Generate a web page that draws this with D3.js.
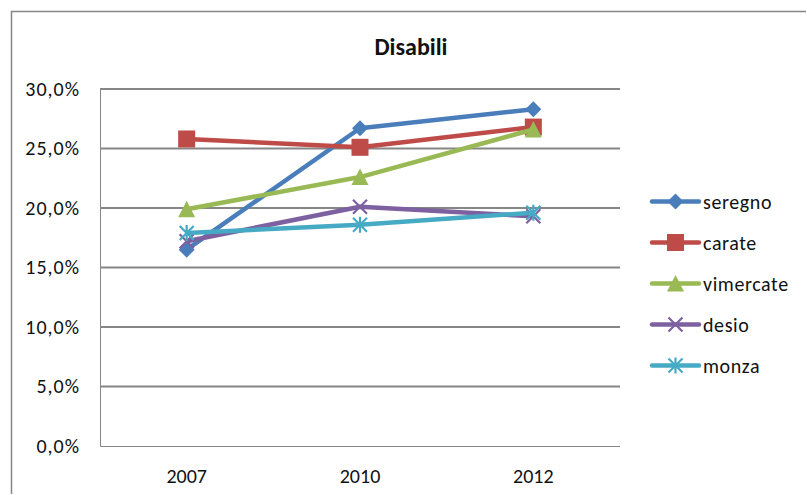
<!DOCTYPE html>
<html><head><meta charset="utf-8">
<script src="https://cdn.jsdelivr.net/npm/d3@7"></script>
<style>html,body{margin:0;padding:0;background:#fff;}svg{display:block;}</style>
</head><body>
<svg id="c" width="807" height="495"></svg>
<script>
const categories = ["2007", "2010", "2012"];
const seregno   = [16.5, 26.7, 28.3];
const carate    = [25.8, 25.1, 26.8];
const vimercate = [19.9, 22.6, 26.6];
const desio     = [17.2, 20.1, 19.3];
const monza     = [17.9, 18.6, 19.6];
const seriesNames = ["seregno", "carate", "vimercate", "desio", "monza"];
const yTicks = [0, 5, 10, 15, 20, 25, 30];
const title = "Disabili";

const series = [
  {name: seriesNames[0], values: seregno,   color: "#4A7EBB", marker: "diamond"},
  {name: seriesNames[1], values: carate,    color: "#BE4B48", marker: "square"},
  {name: seriesNames[2], values: vimercate, color: "#98B954", marker: "triangle"},
  {name: seriesNames[3], values: desio,     color: "#7D60A0", marker: "x"},
  {name: seriesNames[4], values: monza,     color: "#46AAC5", marker: "star"}
];

const font = "Carlito, Lato, 'Open Sans', sans-serif";
const svg = d3.select("#c");
const L = 100, R = 620, T = 89, B = 446;

// outer chart border
svg.append("path").attr("d", "M11.5,494 V11.5 H806").attr("fill", "none")
  .attr("stroke", "#868686").attr("stroke-width", 1.5);

const x = d3.scaleBand().domain(categories).range([L, R]);
const y = d3.scaleLinear().domain([0, 30]).range([B, T]);

// gridlines
svg.append("g").selectAll("line").data(yTicks.filter(d => d > 0)).join("line")
  .attr("x1", L).attr("x2", R).attr("y1", d => y(d)).attr("y2", d => y(d))
  .attr("stroke", "#868686").attr("stroke-width", 2);

// plot area border (left & bottom)
svg.append("path").attr("d", `M${L+0.5},${T} V${B+0.5} H${R}`).attr("fill", "none")
  .attr("stroke", "#868686").attr("stroke-width", 1);

// y axis
const yAxis = svg.append("g").attr("transform", `translate(${L},0)`)
  .call(d3.axisLeft(y).tickValues(yTicks).tickSize(0).tickPadding(20)
    .tickFormat(d => d3.format(".1f")(d).replace(".", ",") + "%"));
yAxis.select(".domain").remove();
yAxis.selectAll("text").attr("font-family", font).attr("font-size", 20)
  .attr("letter-spacing", 1).attr("fill", "#111");

// x axis
const xAxis = svg.append("g").attr("transform", `translate(0,${B})`)
  .call(d3.axisBottom(x).tickSize(0).tickPadding(23));
xAxis.select(".domain").remove();
xAxis.selectAll("text").attr("font-family", font).attr("font-size", 20).attr("fill", "#111");

// title
svg.append("text").attr("x", 411).attr("y", 55).attr("text-anchor", "middle")
  .attr("font-family", font).attr("font-weight", "bold").attr("font-size", 24)
  .attr("fill", "#111").text(title);

function drawMarker(g, type, color, cx, cy) {
  if (type === "diamond") {
    g.append("path").attr("d", `M${cx},${cy-8} L${cx+8},${cy} L${cx},${cy+8} L${cx-8},${cy} Z`).attr("fill", color);
  } else if (type === "square") {
    g.append("rect").attr("x", cx-8.5).attr("y", cy-8.5).attr("width", 17).attr("height", 17).attr("fill", color);
  } else if (type === "triangle") {
    g.append("path").attr("d", `M${cx},${cy-8.5} L${cx+8.5},${cy+8} L${cx-8.5},${cy+8} Z`).attr("fill", color);
  } else if (type === "x") {
    g.append("path").attr("d", `M${cx-7},${cy-7} L${cx+7},${cy+7} M${cx+7},${cy-7} L${cx-7},${cy+7}`)
      .attr("stroke", color).attr("stroke-width", 2.2);
  } else if (type === "star") {
    g.append("path").attr("d", `M${cx-7},${cy-7} L${cx+7},${cy+7} M${cx+7},${cy-7} L${cx-7},${cy+7} M${cx},${cy-8} L${cx},${cy+8}`)
      .attr("stroke", color).attr("stroke-width", 2.2);
  }
}

const line = d3.line().x((d, i) => x(categories[i]) + x.bandwidth() / 2).y(d => y(d));

series.forEach(s => {
  const g = svg.append("g");
  g.append("path").datum(s.values).attr("d", line).attr("fill", "none")
    .attr("stroke", s.color).attr("stroke-width", 4.5).attr("stroke-linejoin", "round");
  s.values.forEach((v, i) => drawMarker(g, s.marker, s.color, x(categories[i]) + x.bandwidth() / 2, y(v)));
});

// legend
const leg = svg.append("g");
series.forEach((s, i) => {
  const ly = 201.5 + i * 41;
  const g = leg.append("g");
  g.append("line").attr("x1", 652).attr("x2", 699).attr("y1", ly).attr("y2", ly)
    .attr("stroke", s.color).attr("stroke-width", 4.5).attr("stroke-linecap", "round");
  drawMarker(g, s.marker, s.color, 675.5, ly);
  g.append("text").attr("x", 703).attr("y", ly + 7).attr("font-family", font)
    .attr("font-size", 20).attr("letter-spacing", 0.6).attr("fill", "#111").text(s.name);
});
</script>
</body></html>
